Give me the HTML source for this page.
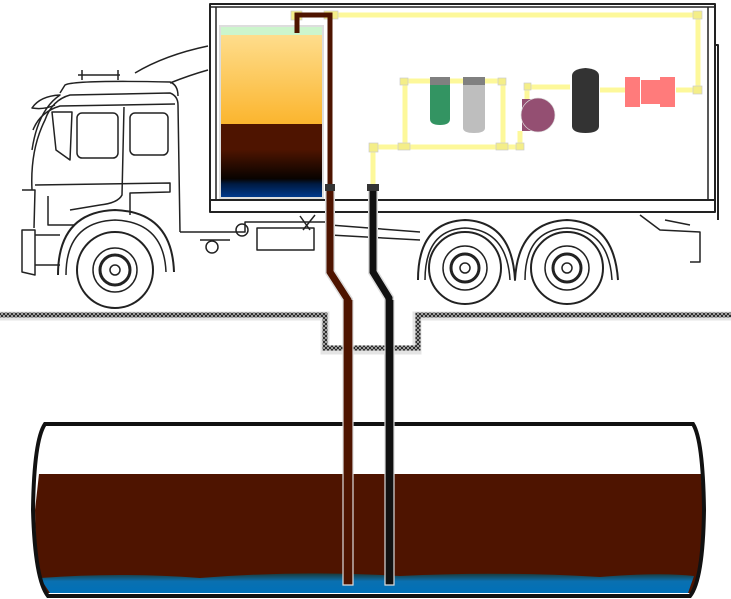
<!DOCTYPE html>
<html><head><meta charset="utf-8"><style>html,body{margin:0;padding:0;background:#fff}svg{display:block}</style></head>
<body>
<svg width="731" height="599" viewBox="0 0 731 599" xmlns="http://www.w3.org/2000/svg">
<defs>
<linearGradient id="og" x1="0" y1="0" x2="0" y2="1"><stop offset="0" stop-color="#fedd8c"/><stop offset="1" stop-color="#fbb52e"/></linearGradient>
<linearGradient id="bg" x1="0" y1="0" x2="0" y2="1"><stop offset="0" stop-color="#4e1400"/><stop offset="0.35" stop-color="#4e1400"/><stop offset="0.75" stop-color="#080300"/><stop offset="0.82" stop-color="#001a40"/><stop offset="1" stop-color="#00398c"/></linearGradient>
<pattern id="hatch" width="4" height="4" patternUnits="userSpaceOnUse"><rect width="4" height="4" fill="#111"/><path d="M0 0L4 4M4 0L0 4" stroke="#bbb" stroke-width="0.8"/></pattern>
<linearGradient id="wt" x1="0" y1="0" x2="0" y2="1"><stop offset="0" stop-color="#1a3a3a"/><stop offset="0.4" stop-color="#0a70b0"/><stop offset="1" stop-color="#0070b8"/></linearGradient>
</defs>
<g fill="none" stroke="#222" stroke-width="1.5" stroke-linejoin="round">
<!-- cab -->
<path d="M32 190 Q30 150 45 120 Q52 100 70 95 L170 93 Q178 96 178 105 L180 232"/>
<path d="M33 130 Q40 112 60 106 L175 104"/>
<path d="M60 93 L65 85 Q75 80 170 82 Q178 85 178 96"/>
<path d="M32 150 Q38 110 60 95 Q40 96 32 108 Q44 110 55 105"/>
<rect x="77" y="113" width="41" height="45" rx="5"/>
<rect x="130" y="113" width="38" height="42" rx="5"/>
<path d="M52 112 L56 150 L70 160 L72 112 Z"/>
<path d="M124 107 L122 195 Q118 203 100 205 L70 210"/>
<path d="M35 185 L170 183 L170 192 L130 193 L130 215"/>
<path d="M48 196 L48 225 L75 225"/>
<path d="M22 230 L35 230 L35 275 L22 272 Z"/>
<path d="M35 235 L60 235 M35 265 L60 265"/>
<path d="M22 190 L35 190 L34 228"/>
<path d="M78 75 L120 75 M82 70 L82 80 M118 70 L118 80"/>
<path d="M135 73 Q165 55 208 46"/>
<path d="M170 83 Q190 75 208 70"/>
<!-- front wheel -->
<path d="M58 275 Q58 212 115 210 Q172 212 174 272" stroke-width="2"/>
<path d="M66 275 Q66 222 115 220 Q164 222 166 272"/>
<circle cx="115" cy="270" r="38" stroke-width="2"/>
<circle cx="115" cy="270" r="22"/>
<circle cx="115" cy="270" r="15" stroke-width="3"/>
<circle cx="115" cy="270" r="5"/>
<!-- box -->
<rect x="210" y="4" width="505" height="196" stroke-width="2"/>
<path d="M210 7 L715 7 M216 7 L216 200 M708 7 L708 200" />
<path d="M210 200 L715 200 L715 212 L210 212 Z" stroke-width="2"/>
<path d="M715 45 L718 45 L718 220" stroke-width="2"/>
<!-- chassis under -->
<path d="M180 232 L245 232 L245 222 L330 222 M200 240 L230 240"/>
<circle cx="242" cy="230" r="6"/><circle cx="212" cy="247" r="6"/>
<rect x="257" y="228" width="57" height="22"/>
<path d="M300 216 L310 230 M303 230 L315 215"/>
<path d="M330 225 L420 232 M330 235 L420 240"/>
<!-- rear wheels -->
<path d="M418 280 Q418 222 465 220 Q512 222 515 280 Q518 222 567 220 Q614 222 618 280" stroke-width="2"/>
<path d="M425 280 Q425 230 465 228 Q507 230 510 280"/>
<path d="M525 280 Q525 230 567 228 Q609 230 612 280"/>
<circle cx="465" cy="268" r="36" stroke-width="2"/><circle cx="465" cy="268" r="22"/><circle cx="465" cy="268" r="14" stroke-width="3"/><circle cx="465" cy="268" r="5"/>
<circle cx="567" cy="268" r="36" stroke-width="2"/><circle cx="567" cy="268" r="22"/><circle cx="567" cy="268" r="14" stroke-width="3"/><circle cx="567" cy="268" r="5"/>
<path d="M640 215 L660 230 L700 232 L700 262 L690 262 M665 220 L690 225"/>
</g>
<!-- truck tank -->
<rect x="219" y="25" width="105" height="174" fill="#ddd"/>
<rect x="221" y="27" width="101" height="8" fill="#ccf5cc"/>
<rect x="221" y="35" width="101" height="89" fill="url(#og)"/>
<rect x="221" y="124" width="101" height="73" fill="url(#bg)"/>
<!-- yellow pipes -->
<g fill="none" stroke="#fdf89a" stroke-width="5">
<path d="M330 15 L698 15 L698 90 L676 90"/>
<path d="M600 90 L625 90"/>
<path d="M373 185 L373 147 L405 147 L405 81 L503 81 L503 147 L520 147 L520 131"/>
<path d="M405 147 L503 147"/>
<path d="M527 100 L527 87 L570 87"/>
</g>
<g fill="#f4ee88" stroke="#ccc" stroke-width="0.7">
<rect x="291" y="11" width="11" height="9"/><rect x="324" y="11" width="14" height="8"/>
<rect x="693" y="11" width="9" height="8"/><rect x="693" y="86" width="9" height="8"/>
<rect x="369" y="143" width="9" height="9"/><rect x="400" y="78" width="8" height="7"/><rect x="498" y="78" width="8" height="7"/>
<rect x="398" y="143" width="12" height="7"/><rect x="496" y="143" width="12" height="7"/><rect x="516" y="143" width="8" height="7"/><rect x="524" y="83" width="7" height="7"/>
</g>
<!-- brown/black pipes -->
<g fill="none" stroke-linejoin="miter">
<path d="M297 33 L297 15 L330 15 L330 185" stroke="#4e1400" stroke-width="5"/>
<path d="M330 190 L330 272 L348 300 L348 585" stroke="#ddd" stroke-width="10"/>
<path d="M330 190 L330 272 L348 300 L348 585" stroke="#4e1400" stroke-width="7"/>
<path d="M373 190 L373 272 L389 298 L389 585" stroke="#ddd" stroke-width="10"/>
<path d="M373 190 L373 272 L389 298 L389 585" stroke="#111" stroke-width="7"/>
</g>
<rect x="325" y="184" width="10" height="7" fill="#333"/>
<rect x="367" y="184" width="12" height="7" fill="#333"/>
<!-- equipment -->
<rect x="430" y="77" width="20" height="8" fill="#808080"/>
<path d="M430 85 H450 V119 Q450 125 440 125 Q430 125 430 119 Z" fill="#339462"/>
<rect x="463" y="77" width="22" height="8" fill="#808080"/>
<path d="M463 85 H485 V128 Q485 133 474 133 Q463 133 463 128 Z" fill="#bebebe"/>
<rect x="522" y="99" width="16" height="32" fill="#944f72"/>
<circle cx="538" cy="115" r="17" fill="#944f72" stroke="#ddd" stroke-width="0.7"/>
<path d="M572 76 Q572 69 585.5 68 Q599 69 599 76 V126 Q599 133 585.5 133 Q572 133 572 126 Z" fill="#333"/>
<rect x="625" y="77" width="15" height="30" fill="#ff7b7b"/>
<rect x="641" y="80" width="19" height="24" fill="#ff7b7b"/>
<rect x="660" y="77" width="15" height="30" fill="#ff7b7b"/>
<!-- ground -->
<g fill="none" stroke="#e4e4e4" stroke-width="9" stroke-linejoin="miter">
<path d="M0 316 L325 316 L325 350 L417 350 L417 316 L731 316"/>
</g>
<g fill="none" stroke="url(#hatch)" stroke-width="5" stroke-linejoin="miter">
<path d="M0 315 L325 315 L325 348 L418 348 L418 315 L731 315"/>
</g>
<!-- underground tank -->
<path d="M45 424 L693 424 Q703 440 704 510 Q703 580 690 596 L48 596 Q35 580 33 510 Q34 440 45 424 Z" fill="#fff"/>
<path d="M39 474 L701 474 L703 510 Q702 578 690 593 L48 593 Q36 578 35 510 Z" fill="#4e1400"/>
<path d="M40 578 Q120 572 200 578 Q300 570 400 576 Q500 571 600 577 Q660 572 694 576 L688 593 L50 593 Z" fill="url(#wt)"/>
<path d="M45 424 L693 424 Q703 440 704 510 Q703 580 690 596 L48 596 Q35 580 33 510 Q34 440 45 424 Z" fill="none" stroke="#111" stroke-width="4"/>
<path d="M343 300 V585 H353 V300" fill="#4e1400" stroke="#ddd" stroke-width="1.2"/>
<path d="M385 300 V585 H394 V300" fill="#111" stroke="#ddd" stroke-width="1.2"/>
</svg>
</body></html>
